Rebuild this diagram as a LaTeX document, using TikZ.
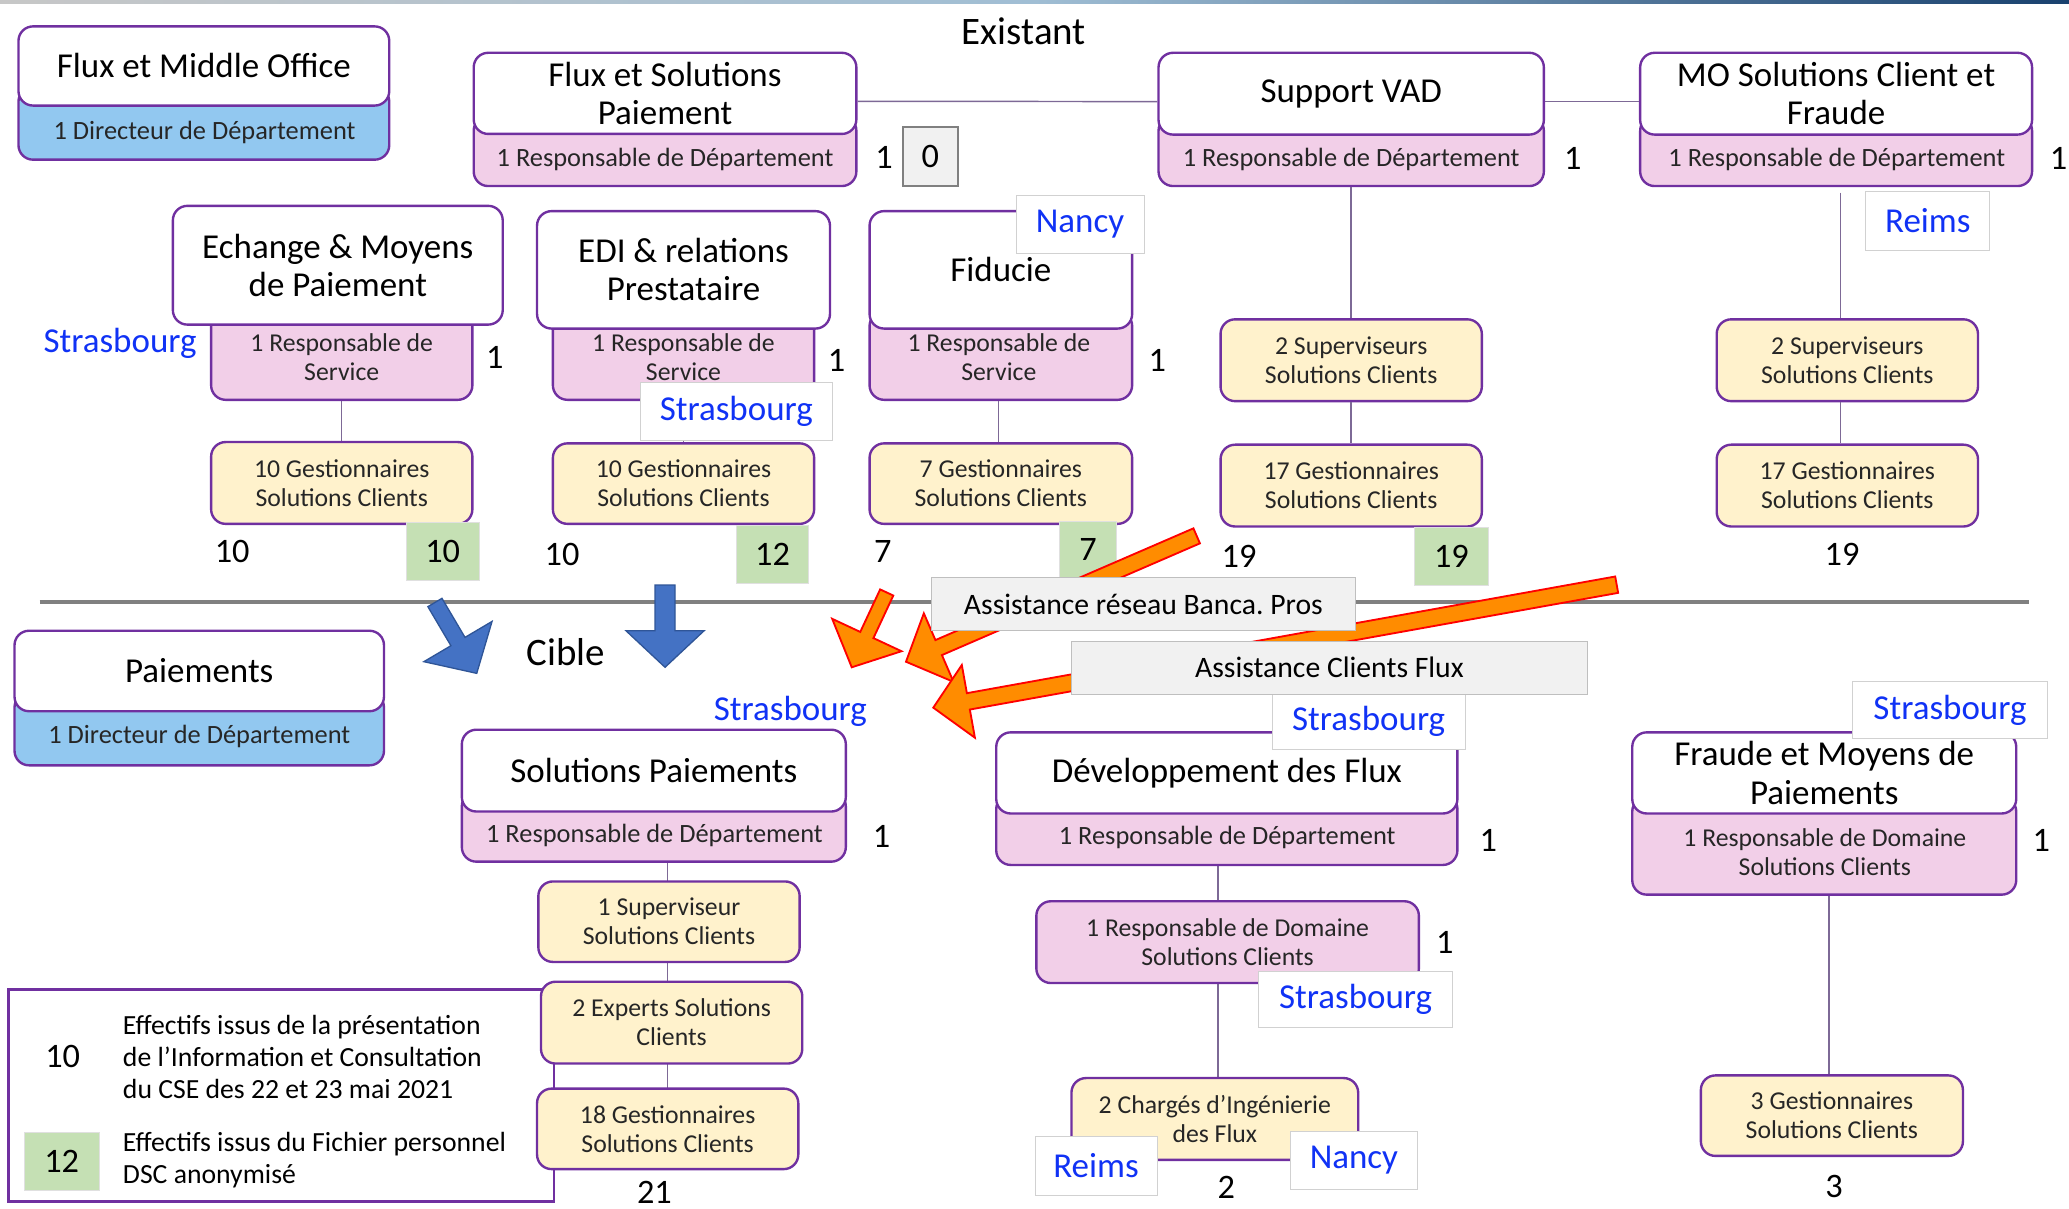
\documentclass[tikz,border=0pt]{standalone}
\usepackage{fontspec}
\setmainfont{Carlito}
\frenchspacing
\usetikzlibrary{calc,fit}

\definecolor{purp}{RGB}{112,48,160}
\definecolor{pinkf}{RGB}{242,207,232}
\definecolor{bluef}{RGB}{146,200,240}
\definecolor{yellowf}{RGB}{255,242,204}
\definecolor{greenf}{RGB}{197,224,180}
\definecolor{placeblue}{RGB}{16,50,245}
\definecolor{linkc}{RGB}{125,105,150}
\definecolor{orangef}{RGB}{255,140,0}
\definecolor{arrowblue}{RGB}{68,114,196}
\definecolor{arrowblueb}{RGB}{47,85,151}
\definecolor{notefill}{RGB}{241,241,241}
\definecolor{noteline}{RGB}{191,191,191}
\definecolor{bodytext}{RGB}{38,38,38}
\definecolor{barnavy}{RGB}{25,65,110}
\definecolor{barlight}{RGB}{160,190,212}

% block arrow: prefix, style, tail, tip, half shaft width, head length, half head width
\newcommand{\fatarrow}[7]{%
  \coordinate (#1base) at ($(#4)!#6!(#3)$);
  \path[#2] ($(#3)!#5!90:(#4)$) -- ($(#1base)!#5!90:(#4)$) -- ($(#1base)!#7!90:(#4)$)
    -- (#4) -- ($(#1base)!#7!-90:(#4)$) -- ($(#1base)!#5!-90:(#4)$)
    -- ($(#3)!#5!-90:(#4)$) -- cycle;
}
% box spanning two corners, with its text centred in it:
% box style, name, corner, corner, text style, text
\newcommand{\boxnode}[6]{%
  \node[#1, fit={(#3) (#4)}] (#2) {};
  \node[#5] (#2t) at (#2.center) {#6};
}

\tikzset{
  boxline/.style={draw=purp, line width=1.8pt, rounded corners=11pt, inner sep=0pt},
  titlebox/.style={boxline, fill=white},
  pinkbox/.style={boxline, fill=pinkf},
  bluebox/.style={boxline, fill=bluef},
  yellowbox/.style={boxline, fill=yellowf},
  titletext/.style={inner sep=0pt, align=center, font=\fontsize{26.5}{29}\selectfont},
  roletext/.style={inner sep=0pt, align=center, text=bodytext, font=\fontsize{20}{22}\selectfont},
  smalltext/.style={inner sep=0pt, align=center, text=bodytext, font=\fontsize{19.5}{22}\selectfont},
  count/.style={inner sep=0pt, font=\fontsize{26}{28}\selectfont},
  greenbox/.style={fill=greenf, draw=black!12, line width=0.6pt, inner sep=0pt},
  zerobox/.style={fill=notefill, draw=black!50, line width=1.6pt, inner sep=0pt},
  place/.style={inner sep=0pt, text=placeblue, font=\fontsize{26.5}{28}\selectfont},
  placebox/.style={fill=white, draw=black!18, line width=0.7pt, inner sep=0pt},
  heading/.style={inner sep=0pt, font=\fontsize{29.5}{31}\selectfont},
  link/.style={draw=linkc, line width=1.1pt},
  sepline/.style={draw=black!50, line width=3pt},
  notebox/.style={fill=notefill, draw=noteline, line width=0.8pt, inner sep=0pt},
  notetext/.style={inner sep=0pt, font=\fontsize{22.5}{24}\selectfont},
  legendbox/.style={draw=purp, line width=1.8pt, fill=white, inner sep=0pt},
  legendtext/.style={inner sep=0pt, align=left, font=\fontsize{21}{24}\selectfont},
  orangearrow/.style={fill=orangef, draw=red, line width=1.4pt, line join=miter},
  bluearrow/.style={fill=arrowblue, draw=arrowblueb, line width=1pt, line join=miter},
}

\begin{document}
\begin{tikzpicture}[x=1pt, y=-1pt]
\useasboundingbox (0,0) rectangle (1568,916);

% thin header band
\shade[left color=black!22, right color=barnavy, middle color=barlight] (0,0) rectangle (1568,3);

% ---------------- existing organisation ----------------
\node[heading] (existant) at (776,24) {Existant};

% Flux et Middle Office
\node[bluebox, fit={(14,66) (295,121)}] (fmoR) {};
\boxnode{titlebox}{fmoT}{14,20}{295,80}{titletext}{Flux et Middle Office}
\node[roletext] (fmoRt) at (155,100.5) {1 Directeur de Département};

% Flux et Solutions Paiement
\node[pinkbox, fit={(359,88) (649,141)}] (fspR) {};
\boxnode{titlebox}{fspT}{359,40}{649,101.5}{titletext}{Flux et Solutions\\Paiement}
\node[roletext] (fspRt) at (504,121) {1 Responsable de Département};
\node[count] (fspN) at (670,119) {1};
\boxnode{zerobox}{fspZ}{684,96}{726,141}{count}{0}

% Support VAD
\node[pinkbox, fit={(878,88) (1170,141)}] (vadR) {};
\boxnode{titlebox}{vadT}{878,40}{1170,102}{titletext}{Support VAD}
\node[roletext] (vadRt) at (1024,121) {1 Responsable de Département};
\node[count] (vadN) at (1192,120) {1};

% MO Solutions Client et Fraude
\node[pinkbox, fit={(1243,88) (1540,141)}] (mocR) {};
\boxnode{titlebox}{mocT}{1243,40}{1540,102}{titletext}{MO Solutions Client et\\Fraude}
\node[roletext] (mocRt) at (1392,121) {1 Responsable de Département};
\node[count] (mocN) at (1560,120) {1};

% links between departments
\draw[link] ([yshift=-6pt]fspT.east) -- ([yshift=-6pt]vadT.west);
\draw[link] ([yshift=-6pt]vadT.east) -- ([yshift=-6pt]mocT.west);

% Echange & Moyens de Paiement
\coordinate (empX) at (259,0);
\draw[link] (empX |- 0,303) -- (empX |- 0,335);
\node[pinkbox, fit={(160,232) (358,303)}] (empR) {};
\boxnode{titlebox}{empT}{131,156}{381,246}{titletext}{Echange \& Moyens\\de Paiement}
\node[smalltext] (empRt) at (259,271) {1 Responsable de\\Service};
\node[count] (empN) at (375,271) {1};
\node[place] (empP) at (91,260) {Strasbourg};
\boxnode{yellowbox}{empG}{160,335}{358,397}{smalltext}{10 Gestionnaires\\Solutions Clients}
\node[count] (empC) at (176,418) {10};
\boxnode{greenbox}{empF}{308,396}{363,440}{count}{10}

% EDI & relations Prestataire
\node[pinkbox, fit={(419,236) (617,303)}] (ediR) {};
\boxnode{titlebox}{ediT}{407,160}{629,249}{titletext}{EDI \& relations\\Prestataire}
\node[smalltext] (ediRt) at (518,271) {1 Responsable de\\Service};
\node[count] (ediN) at (634,273) {1};
\boxnode{yellowbox}{ediG}{419,336}{617,397}{smalltext}{10 Gestionnaires\\Solutions Clients}
\draw[link] (ediR.south) -- (ediG.north);
\boxnode{placebox}{ediP}{485,290}{631,334}{place}{Strasbourg}
\node[count] (ediC) at (426,420) {10};
\boxnode{greenbox}{ediF}{558,398}{613,442}{count}{12}

% Fiducie
\node[pinkbox, fit={(659,236) (858,303)}] (fidR) {};
\boxnode{titlebox}{fidT}{659,160}{858,249}{titletext}{Fiducie}
\node[smalltext] (fidRt) at (757,271) {1 Responsable de\\Service};
\node[count] (fidN) at (877,273) {1};
\boxnode{placebox}{fidP}{770,148}{867,192}{place}{Nancy}
\boxnode{yellowbox}{fidG}{659,336}{858,397}{smalltext}{7 Gestionnaires\\Solutions Clients}
\draw[link] ([xshift=-2pt]fidR.south) -- ([xshift=-2pt]fidG.north);
\node[count] (fidC) at (669,418) {7};
\boxnode{greenbox}{fidF}{803,395}{846,438}{count}{7}

% Support VAD teams
\boxnode{yellowbox}{vadS}{925,242}{1123,304}{smalltext}{2 Superviseurs\\Solutions Clients}
\boxnode{yellowbox}{vadG}{925,337}{1123,399}{smalltext}{17 Gestionnaires\\Solutions Clients}
\draw[link] (vadR.south) -- (vadS.north);
\draw[link] (vadS.south) -- (vadG.north);
\node[count] (vadC) at (939,422) {19};
\boxnode{greenbox}{vadF}{1072,400}{1128,444}{count}{19}

% MO teams
\coordinate (mocX) at (1395,0);
\boxnode{yellowbox}{mocS}{1301,242}{1499,304}{smalltext}{2 Superviseurs\\Solutions Clients}
\boxnode{yellowbox}{mocG}{1301,337}{1499,399}{smalltext}{17 Gestionnaires\\Solutions Clients}
\draw[link] (mocX |- 0,146) -- (mocX |- mocS.north);
\draw[link] (mocX |- mocS.south) -- (mocX |- mocG.north);
\boxnode{placebox}{mocP}{1414,145}{1508,190}{place}{Reims}
\node[count] (mocC) at (1396,420) {19};

% ---------------- separator ----------------
\coordinate (sepL) at (30,456.5);
\coordinate (sepR) at (1538,456.5);
\draw[sepline] (sepL) -- (sepR);

% ---------------- target organisation ----------------
\node[heading] (cible) at (429,494) {Cible};

% Paiements
\node[bluebox, fit={(11,525) (291,580)}] (paiR) {};
\boxnode{titlebox}{paiT}{11,478}{291,539}{titletext}{Paiements}
\node[roletext] (paiRt) at (151,558) {1 Directeur de Département};

% legend
\node[legendbox, fit={(6.5,750) (420,910.5)}] (legend) {};
\node[count] (legN) at (47.5,801) {10};
\node[legendtext, anchor=west] (legNt) at (93,801) {Effectifs issus de la présentation\\de l’Information et Consultation\\du CSE des 22 et 23 mai 2021};
\boxnode{greenbox}{legF}{18.5,858}{75,902}{count}{12}
\node[legendtext, anchor=west] (legFt) at (93,879) {Effectifs issus du Fichier personnel\\DSC anonymisé};

% Solutions Paiements
\coordinate (spX) at (506,0);
\draw[link] (spX |- 0,653) -- (spX |- 0,825);
\node[pinkbox, fit={(350,600) (641,653)}] (spR) {};
\boxnode{titlebox}{spT}{350,553}{641,615}{titletext}{Solutions Paiements}
\node[roletext] (spRt) at (496,633) {1 Responsable de Département};
\node[count] (spN) at (668,634) {1};
\node[place] (spP) at (599,539) {Strasbourg};
\boxnode{yellowbox}{spS}{408,668}{606,729}{smalltext}{1 Superviseur\\Solutions Clients}
\boxnode{yellowbox}{spE}{410,744}{608,806}{smalltext}{2 Experts Solutions\\Clients}
\boxnode{yellowbox}{spG}{407,825}{605,886}{smalltext}{18 Gestionnaires\\Solutions Clients}
\node[count] (spC) at (496,904) {21};

% Développement des Flux
\coordinate (dfX) at (923,0);
\draw[link] (dfX |- 0,655) -- (dfX |- 0,817);
\node[pinkbox, fit={(755,602) (1104.5,655.5)}] (dfR) {};
\boxnode{titlebox}{dfT}{755,555}{1104.5,616.5}{titletext}{Développement des Flux}
\node[roletext] (dfRt) at (930,635) {1 Responsable de Département};
\node[count] (dfN) at (1128,637) {1};
\boxnode{placebox}{dfP}{964,526}{1110.5,568}{place}{Strasbourg}
\boxnode{pinkbox}{dfD}{785.4,683}{1075.3,745}{smalltext}{1 Responsable de Domaine\\Solutions Clients}
\node[count] (dfDN) at (1095,714) {1};
\boxnode{placebox}{dfDP}{954,736}{1100.7,779}{place}{Strasbourg}
\boxnode{yellowbox}{dfC}{812,817}{1029.3,879}{smalltext}{2 Chargés d’Ingénierie\\des Flux}
\boxnode{placebox}{dfCR}{784.4,861}{876.8,905.6}{place}{Reims}
\boxnode{placebox}{dfCN}{977.8,857.5}{1074.3,901.6}{place}{Nancy}
\node[count] (dfCC) at (929.3,900) {2};

% Fraude et Moyens de Paiements
\coordinate (fmpX) at (1386,0);
\draw[link] (fmpX |- 0,678) -- (fmpX |- 0,815);
\node[pinkbox, fit={(1237,604) (1528,678)}] (fmpR) {};
\boxnode{titlebox}{fmpT}{1237,555}{1528,616.5}{titletext}{Fraude et Moyens de\\Paiements}
\node[smalltext] (fmpRt) at (1383,646) {1 Responsable de Domaine\\Solutions Clients};
\node[count] (fmpN) at (1547,637) {1};
\boxnode{placebox}{fmpP}{1404,516.5}{1551.6,560}{place}{Strasbourg}
\boxnode{yellowbox}{fmpG}{1289,815}{1487.6,876}{smalltext}{3 Gestionnaires\\Solutions Clients}
\node[count] (fmpC) at (1390,899) {3};

% ---------------- transition arrows ----------------
\coordinate (bgTail) at (329.6,456.6);
\coordinate (bgTip) at (361.3,510.3);
\fatarrow{bg}{bluearrow}{bgTail}{bgTip}{6.2pt}{28pt}{30pt}
\coordinate (bdTail) at (504,443.4);
\coordinate (bdTip) at (504,505.7);
\fatarrow{bd}{bluearrow}{bdTail}{bdTip}{7.6pt}{27.7pt}{29.6pt}

\coordinate (oaTail) at (672,449);
\coordinate (oaTip) at (645.5,505.7);
\fatarrow{oa}{orangearrow}{oaTail}{oaTip}{5.5pt}{27pt}{29pt}
\coordinate (obTail) at (906.9,406.1);
\coordinate (obTip) at (686.6,501.5);
\fatarrow{ob}{orangearrow}{obTail}{obTip}{6.2pt}{27pt}{28.3pt}
\coordinate (ocTail) at (1225.2,443.1);
\coordinate (ocTip) at (707.3,536.3);
\fatarrow{oc}{orangearrow}{ocTail}{ocTip}{6.3pt}{27pt}{28pt}

\boxnode{notebox}{noteA}{706,438}{1027,478}{notetext}{Assistance réseau Banca. Pros}
\boxnode{notebox}{noteB}{812,486}{1203,526}{notetext}{Assistance Clients Flux}
\end{tikzpicture}
\end{document}
